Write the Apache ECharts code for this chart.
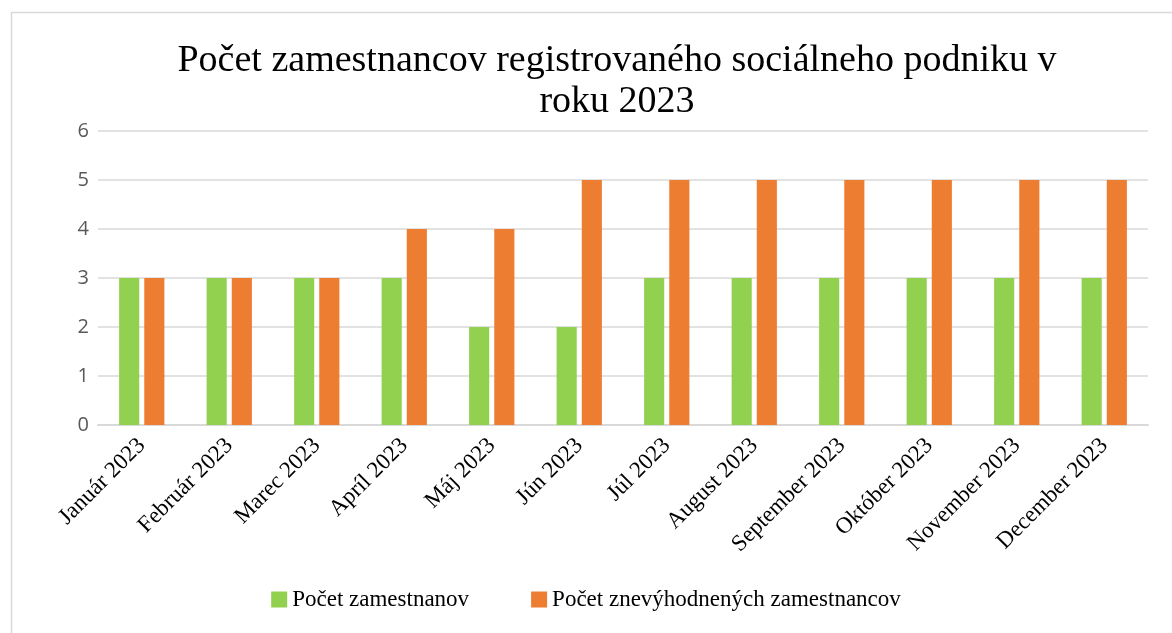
<!DOCTYPE html>
<html>
<head>
<meta charset="utf-8">
<script src="https://cdn.jsdelivr.net/npm/echarts@6/dist/echarts.min.js"></script>
<style>html,body{margin:0;padding:0;background:#fff;}#c{width:1172px;height:633px;}</style>
</head>
<body>
<div id="c"></div>
<script>
const categories = ['Január 2023','Február 2023','Marec 2023','Apríl 2023','Máj 2023','Jún 2023','Júl 2023','August 2023','September 2023','Október 2023','November 2023','December 2023'];
const zamestnanci = [3,3,3,3,2,2,3,3,3,3,3,3];
const znevyhodneni = [3,3,3,4,4,5,5,5,5,5,5,5];
const seriesNames = ['Počet zamestnanov','Počet znevýhodnených zamestnancov'];
const titleText = 'Počet zamestnancov registrovaného sociálneho podniku v\nroku 2023';

const chart = echarts.init(document.getElementById('c'));
chart.setOption({
  animation: false,
  backgroundColor: '#fff',
  graphic: [{type:'rect', shape:{x:11.5,y:12.5,width:1300,height:800}, style:{fill:'none', stroke:'#d9d9d9', lineWidth:1.5}, silent:true}],
  title: {
    text: titleText, left: 612, top: 36, textAlign: 'center',
    textStyle: {fontFamily:'Liberation Serif', fontSize:38, fontWeight:'normal', color:'#000', lineHeight:41}
  },
  legend: {
    data: seriesNames, top: 583, left: 'center', itemWidth: 16, itemHeight: 16, itemGap: 62,
    icon: 'rect',
    textStyle: {fontFamily:'Liberation Serif', fontSize:23, color:'#000'}
  },
  grid: {left: 98, right: 24, top: 131, bottom: 208, containLabel: false},
  xAxis: {
    type: 'category', data: categories,
    axisLine: {lineStyle:{color:'#d9d9d9', width:2}},
    axisTick: {show:false},
    axisLabel: {rotate: 45, margin: 17, interval: 0, fontFamily:'Liberation Serif', fontSize:23, color:'#000'}
  },
  yAxis: {
    type: 'value', min: 0, max: 6, interval: 1,
    axisLine: {show:false}, axisTick: {show:false},
    splitLine: {lineStyle:{color:'#d9d9d9', width:1.5}},
    axisLabel: {margin: 9, fontFamily:'Open Sans', fontSize:20, color:'#595959'}
  },
  series: [
    {name: seriesNames[0], type:'bar', data: zamestnanci, barWidth: '23%', barGap: '25%', itemStyle:{color:'#92d050'}},
    {name: seriesNames[1], type:'bar', data: znevyhodneni, barWidth: '23%', barGap: '25%', itemStyle:{color:'#ed7d31'}}
  ]
});
</script>
</body>
</html>
